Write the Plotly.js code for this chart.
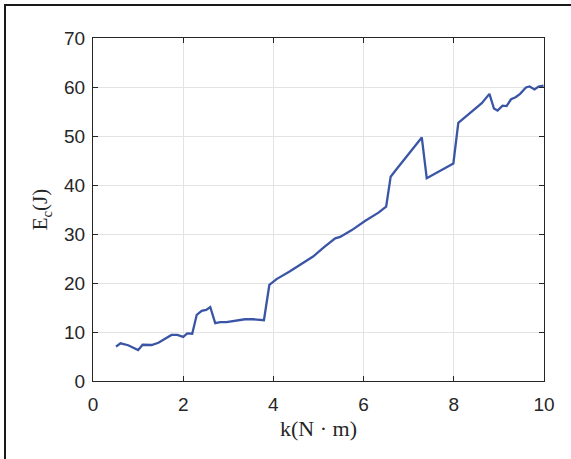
<!DOCTYPE html>
<html>
<head>
<meta charset="utf-8">
<script src="https://cdn.plot.ly/plotly-3.0.1.min.js"></script>
<style>
html,body{margin:0;padding:0;background:#fff;}
#wrap{position:relative;width:571px;height:459px;overflow:hidden;}
#chart{position:absolute;left:0;top:0;width:571px;height:459px;}
#frame{position:absolute;left:4px;top:4px;width:600px;height:500px;border-top:2.5px solid #1a1a1a;border-left:2.5px solid #1a1a1a;pointer-events:none;}
</style>
</head>
<body>
<div id="wrap"><div id="chart"></div><div id="frame"></div></div>
<script>
const kValues = [0.51,0.61,0.78,1.0,1.10,1.30,1.45,1.60,1.74,1.87,2.0,2.09,2.20,2.30,2.41,2.51,2.60,2.71,2.82,2.96,3.19,3.37,3.55,3.67,3.79,3.91,4.07,4.35,4.59,4.88,5.11,5.37,5.48,5.74,6.03,6.33,6.50,6.60,6.72,6.92,7.10,7.29,7.40,7.99,8.10,8.29,8.47,8.62,8.79,8.89,8.97,9.08,9.17,9.27,9.37,9.47,9.60,9.68,9.79,9.88,9.99];
const ecValues = [7.0,7.7,7.3,6.3,7.4,7.35,7.8,8.7,9.4,9.4,9.0,9.7,9.65,13.5,14.3,14.5,15.1,11.8,12.0,12.0,12.3,12.6,12.6,12.45,12.4,19.6,20.8,22.3,23.7,25.4,27.2,29.1,29.4,30.8,32.65,34.35,35.6,41.7,43.1,45.4,47.5,49.7,41.4,44.4,52.7,54.1,55.6,56.7,58.6,55.6,55.2,56.2,56.1,57.5,57.9,58.6,59.9,60.1,59.5,60.1,60.3];
const xTicks = [0,2,4,6,8,10];
const yTicks = [0,10,20,30,40,50,60,70];

const axisCommon = {
  showline: true, linecolor: '#262626', linewidth: 1,
  mirror: 'ticks', ticks: 'inside', ticklen: 5, tickwidth: 1, tickcolor: '#262626',
  showgrid: true, gridcolor: '#e3e3e3', gridwidth: 1, zeroline: false,
  tickfont: {family: 'Liberation Sans, Arial, sans-serif', size: 19, color: '#262626'}
};

Plotly.newPlot('chart', [{
  x: kValues, y: ecValues, type: 'scatter', mode: 'lines',
  line: {color: '#3a55a5', width: 2.3}
}], {
  width: 571, height: 459,
  margin: {l: 93, r: 27, t: 38, b: 78},
  paper_bgcolor: '#fff', plot_bgcolor: '#fff',
  showlegend: false,
  xaxis: Object.assign({}, axisCommon, {
    range: [0, 10], tickvals: xTicks, ticktext: xTicks.map(String),
    ticklabelstandoff: 6,
    title: {text: 'k(N · m)', font: {family: 'Liberation Serif, Times New Roman, serif', size: 22, color: '#262626'}, standoff: 6}
  }),
  yaxis: Object.assign({}, axisCommon, {
    range: [0, 70], tickvals: yTicks, ticktext: yTicks.map(String),
    ticklabelstandoff: 3,
    title: {text: 'E<sub>c</sub>(J)', font: {family: 'Liberation Serif, Times New Roman, serif', size: 21, color: '#262626'}, standoff: 10}
  })
}, {displayModeBar: false, staticPlot: true});
</script>
</body>
</html>
